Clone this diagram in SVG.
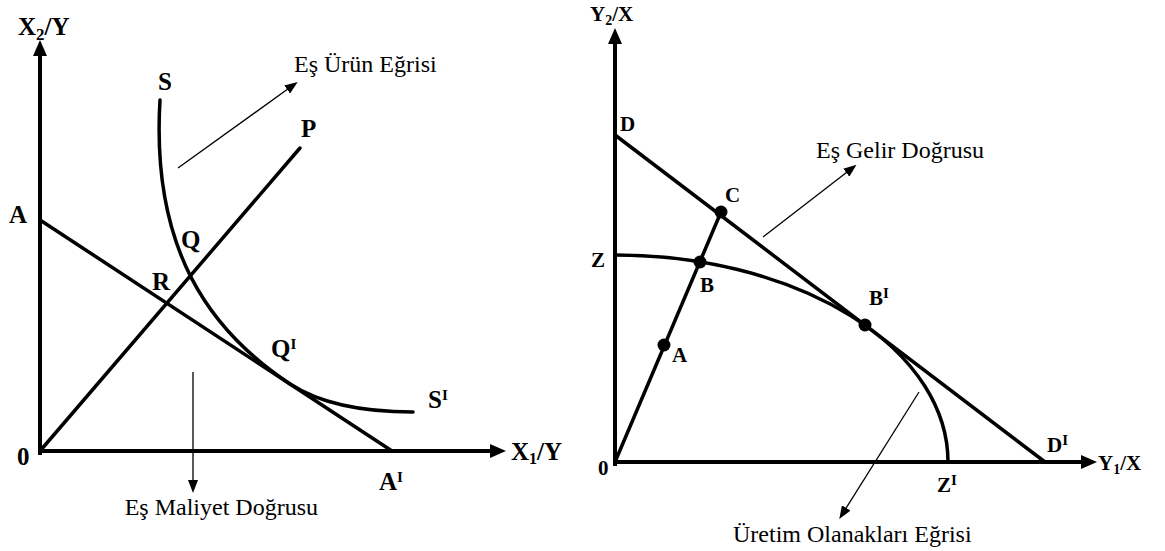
<svg xmlns="http://www.w3.org/2000/svg" width="1165" height="551" viewBox="0 0 1165 551">
<style>
.ax{stroke:#000;stroke-width:4;fill:none}
.ln{stroke:#000;stroke-width:3.5;fill:none;stroke-linecap:round}
.thin{stroke:#000;stroke-width:1.3;fill:none}
.dot{fill:#000}
.lb{font-family:"Liberation Serif",serif;font-weight:bold;font-size:25px;fill:#000}
.lr{font-family:"Liberation Serif",serif;font-weight:bold;font-size:21px;fill:#000}
.tx{font-family:"Liberation Serif",serif;font-size:24px;fill:#000}
.sup{font-size:15px}
</style>
<defs>
<marker id="axArr" markerUnits="userSpaceOnUse" markerWidth="16" markerHeight="14" refX="8" refY="7" orient="auto"><path d="M0,0 L16,7 L0,14 z" fill="#000"/></marker>
<marker id="thArr" markerUnits="userSpaceOnUse" markerWidth="13" markerHeight="10" refX="6" refY="5" orient="auto"><path d="M0,0 L13,5 L0,10 z" fill="#000"/></marker>
</defs>

<g id="connectors">
<!-- left diagram -->
<path class="ax" d="M40,455 L40,48" marker-end="url(#axArr)"/>
<path class="ax" d="M38,451 L498,451" marker-end="url(#axArr)"/>
<path class="ln" d="M40,220 L392,451"/>
<path class="ln" d="M40,451 L300,148"/>
<path class="ln" d="M160,100 C151,250 210,331 290,384 C330,410 385,412 413,412"/>
<path class="thin" d="M178,168 L292,86" marker-end="url(#thArr)"/>
<path class="thin" d="M193,372 L193,486" marker-end="url(#thArr)"/>
<!-- right diagram -->
<path class="ax" d="M615,466 L615,36" marker-end="url(#axArr)"/>
<path class="ax" d="M613,462 L1089,462" marker-end="url(#axArr)"/>
<path class="ln" d="M615,135 L1045,462"/>
<path class="ln" d="M615,462 L721,212"/>
<path class="ln" d="M615,255 A333,207 0 0 1 948,462"/>
<path class="thin" d="M763,237 L851,169" marker-end="url(#thArr)"/>
<path class="thin" d="M919,392 L843,513" marker-end="url(#thArr)"/>
</g>

<g id="left-labels">
<text class="lb" x="18" y="35" font-size="28">X<tspan font-size="17" dy="5">2</tspan><tspan dy="-5">/Y</tspan></text>
<text class="lb" x="9" y="223">A</text>
<text class="lb" x="152" y="290">R</text>
<text class="lb" x="181" y="248">Q</text>
<text class="lb" x="158" y="90">S</text>
<text class="lb" x="301" y="137">P</text>
<text class="lb" x="271" y="357">Q<tspan class="sup" dy="-8">I</tspan></text>
<text class="lb" x="428" y="408">S<tspan class="sup" dy="-8">I</tspan></text>
<text class="lb" x="17" y="465">0</text>
<text class="lb" x="511" y="460">X<tspan font-size="16" dy="4">1</tspan><tspan dy="-4">/Y</tspan></text>
<text class="lb" x="379" y="490">A<tspan class="sup" dy="-8">I</tspan></text>
</g>
<g id="es-urun-egrisi"><text class="tx" x="294" y="72" font-size="25">Eş Ürün Eğrisi</text></g>
<g id="es-maliyet-dogrusu"><text class="tx" x="318" y="515" text-anchor="end" font-size="25">Eş Maliyet Doğrusu</text></g>

<g id="right-labels">
<text class="lr" x="590" y="21">Y<tspan font-size="14" dy="4">2</tspan><tspan dy="-4">/X</tspan></text>
<text class="lr" x="620" y="131">D</text>
<text class="lr" x="591" y="267">Z</text>
<text class="lr" x="725" y="202">C</text>
<text class="lr" x="700" y="292">B</text>
<text class="lr" x="672" y="362">A</text>
<text class="lr" x="869" y="305">B<tspan class="sup" dy="-7">I</tspan></text>
<text class="lr" x="598" y="475">0</text>
<text class="lr" x="937" y="492">Z<tspan class="sup" dy="-7">I</tspan></text>
<text class="lr" x="1047" y="452">D<tspan class="sup" dy="-7">I</tspan></text>
<text class="lr" x="1098" y="470">Y<tspan font-size="14" dy="4">1</tspan><tspan dy="-4">/X</tspan></text>
</g>
<g id="point-A"><circle class="dot" cx="664" cy="345" r="6.5"/></g>
<g id="point-B"><circle class="dot" cx="700" cy="262" r="6.5"/></g>
<g id="point-C"><circle class="dot" cx="721" cy="212" r="6.5"/></g>
<g id="point-BI"><circle class="dot" cx="865" cy="325" r="6.5"/></g>
<g id="es-gelir-dogrusu"><text class="tx" x="816" y="158" font-size="23">Eş Gelir Doğrusu</text></g>
<g id="uretim-olanaklari-egrisi"><text class="tx" x="733" y="542" font-size="23">Üretim Olanakları Eğrisi</text></g>
</svg>
